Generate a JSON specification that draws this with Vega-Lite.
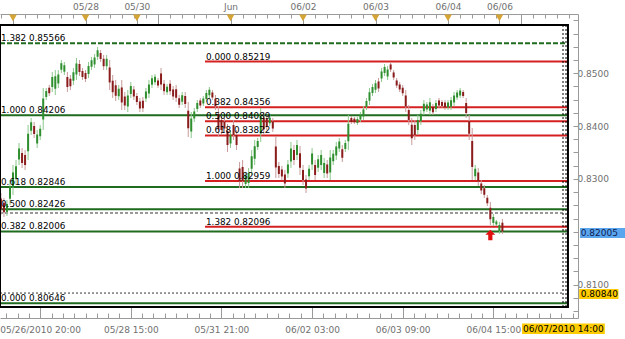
{
"$schema": "https://vega.github.io/schema/vega-lite/v6.json",
"width": 578, "height": 304,
"autosize": {"type": "none"},
"padding": {"left": 0, "top": 14, "right": 47, "bottom": 21},
"background": "white",
"config": {"view": {"stroke": null}, "axis": {"labelFont": "DejaVu Sans", "labelFontSize": 9, "labelColor": "#707070", "domainColor": "#9a9a9a", "tickColor": "#9a9a9a", "grid": false}, "text": {"font": "DejaVu Sans"}},
"resolve": {"axis": {"x": "independent", "y": "independent"}},
"datasets": {
"candles": [
{"t":0,"o":0.82629,"h":0.82733,"l":0.82317,"c":0.82421},
{"t":1,"o":0.82549,"h":0.82639,"l":0.82280,"c":0.82369},
{"t":2,"o":0.82374,"h":0.82601,"l":0.82298,"c":0.82525},
{"t":3,"o":0.82625,"h":0.82979,"l":0.82506,"c":0.82861},
{"t":4,"o":0.82837,"h":0.83263,"l":0.82695,"c":0.83122},
{"t":5,"o":0.83003,"h":0.83358,"l":0.82884,"c":0.83239},
{"t":6,"o":0.83367,"h":0.83679,"l":0.83263,"c":0.83575},
{"t":7,"o":0.83490,"h":0.83585,"l":0.83207,"c":0.83301},
{"t":8,"o":0.83452,"h":0.83547,"l":0.83169,"c":0.83263},
{"t":9,"o":0.83523,"h":0.84020,"l":0.83358,"c":0.83854},
{"t":10,"o":0.83911,"h":0.84153,"l":0.83831,"c":0.84072},
{"t":11,"o":0.84001,"h":0.84077,"l":0.83774,"c":0.83850},
{"t":12,"o":0.83670,"h":0.83925,"l":0.83585,"c":0.83840},
{"t":13,"o":0.83807,"h":0.84020,"l":0.83736,"c":0.83949},
{"t":14,"o":0.84124,"h":0.84720,"l":0.83925,"c":0.84521},
{"t":15,"o":0.84550,"h":0.84720,"l":0.84493,"c":0.84663},
{"t":16,"o":0.84725,"h":0.84777,"l":0.84569,"c":0.84621},
{"t":17,"o":0.84739,"h":0.85023,"l":0.84644,"c":0.84928},
{"t":18,"o":0.84706,"h":0.85061,"l":0.84588,"c":0.84942},
{"t":19,"o":0.84806,"h":0.85061,"l":0.84720,"c":0.84976},
{"t":20,"o":0.85066,"h":0.85250,"l":0.85004,"c":0.85189},
{"t":21,"o":0.85028,"h":0.85212,"l":0.84966,"c":0.85151},
{"t":22,"o":0.84928,"h":0.85023,"l":0.84644,"c":0.84739},
{"t":23,"o":0.84895,"h":0.84966,"l":0.84682,"c":0.84753},
{"t":24,"o":0.84858,"h":0.85099,"l":0.84777,"c":0.85018},
{"t":25,"o":0.84976,"h":0.85288,"l":0.84872,"c":0.85184},
{"t":26,"o":0.85174,"h":0.85250,"l":0.84947,"c":0.85023},
{"t":27,"o":0.85042,"h":0.85099,"l":0.84872,"c":0.84928},
{"t":28,"o":0.85004,"h":0.85061,"l":0.84834,"c":0.84891},
{"t":29,"o":0.84985,"h":0.85212,"l":0.84909,"c":0.85136},
{"t":30,"o":0.85122,"h":0.85307,"l":0.85061,"c":0.85245},
{"t":31,"o":0.85165,"h":0.85363,"l":0.85099,"c":0.85297},
{"t":32,"o":0.85311,"h":0.85496,"l":0.85250,"c":0.85434},
{"t":33,"o":0.85382,"h":0.85439,"l":0.85212,"c":0.85269},
{"t":34,"o":0.85273,"h":0.85345,"l":0.85061,"c":0.85132},
{"t":35,"o":0.85132,"h":0.85345,"l":0.85061,"c":0.85273},
{"t":36,"o":0.85108,"h":0.85250,"l":0.84682,"c":0.84825},
{"t":37,"o":0.84858,"h":0.84966,"l":0.84531,"c":0.84640},
{"t":38,"o":0.84772,"h":0.84872,"l":0.84474,"c":0.84573},
{"t":39,"o":0.84564,"h":0.84777,"l":0.84493,"c":0.84706},
{"t":40,"o":0.84730,"h":0.84872,"l":0.84304,"c":0.84446},
{"t":41,"o":0.84559,"h":0.84644,"l":0.84304,"c":0.84389},
{"t":42,"o":0.84370,"h":0.84682,"l":0.84266,"c":0.84578},
{"t":43,"o":0.84606,"h":0.84834,"l":0.84531,"c":0.84758},
{"t":44,"o":0.84692,"h":0.84758,"l":0.84493,"c":0.84559},
{"t":45,"o":0.84569,"h":0.84626,"l":0.84398,"c":0.84455},
{"t":46,"o":0.84465,"h":0.84531,"l":0.84266,"c":0.84332},
{"t":47,"o":0.84479,"h":0.84550,"l":0.84266,"c":0.84337},
{"t":48,"o":0.84521,"h":0.84720,"l":0.84455,"c":0.84654},
{"t":49,"o":0.84616,"h":0.84872,"l":0.84531,"c":0.84786},
{"t":50,"o":0.84782,"h":0.84966,"l":0.84720,"c":0.84904},
{"t":51,"o":0.84829,"h":0.84985,"l":0.84777,"c":0.84933},
{"t":52,"o":0.84862,"h":0.84909,"l":0.84720,"c":0.84767},
{"t":53,"o":0.84995,"h":0.85099,"l":0.84682,"c":0.84786},
{"t":54,"o":0.84801,"h":0.84872,"l":0.84588,"c":0.84659},
{"t":55,"o":0.84640,"h":0.84796,"l":0.84588,"c":0.84744},
{"t":56,"o":0.84801,"h":0.84872,"l":0.84588,"c":0.84659},
{"t":57,"o":0.84692,"h":0.84758,"l":0.84493,"c":0.84559},
{"t":58,"o":0.84696,"h":0.84777,"l":0.84455,"c":0.84535},
{"t":59,"o":0.84526,"h":0.84588,"l":0.84342,"c":0.84403},
{"t":60,"o":0.84460,"h":0.84644,"l":0.84398,"c":0.84583},
{"t":61,"o":0.84569,"h":0.84644,"l":0.84342,"c":0.84417},
{"t":62,"o":0.84290,"h":0.84455,"l":0.83793,"c":0.83958},
{"t":63,"o":0.83897,"h":0.84266,"l":0.83774,"c":0.84143},
{"t":64,"o":0.84143,"h":0.84342,"l":0.84077,"c":0.84276},
{"t":65,"o":0.84323,"h":0.84493,"l":0.84266,"c":0.84436},
{"t":66,"o":0.84484,"h":0.84531,"l":0.84342,"c":0.84389},
{"t":67,"o":0.84427,"h":0.84569,"l":0.84380,"c":0.84521},
{"t":68,"o":0.84512,"h":0.84682,"l":0.84455,"c":0.84626},
{"t":69,"o":0.84583,"h":0.84739,"l":0.84531,"c":0.84687},
{"t":70,"o":0.84635,"h":0.84682,"l":0.84493,"c":0.84540},
{"t":71,"o":0.84516,"h":0.84588,"l":0.84304,"c":0.84375},
{"t":72,"o":0.84233,"h":0.84380,"l":0.83793,"c":0.83939},
{"t":73,"o":0.84115,"h":0.84209,"l":0.83831,"c":0.83925},
{"t":74,"o":0.84086,"h":0.84153,"l":0.83887,"c":0.83953},
{"t":75,"o":0.83906,"h":0.84039,"l":0.83509,"c":0.83641},
{"t":76,"o":0.83670,"h":0.83925,"l":0.83585,"c":0.83840},
{"t":77,"o":0.84020,"h":0.84115,"l":0.83736,"c":0.83831},
{"t":78,"o":0.83831,"h":0.83925,"l":0.83547,"c":0.83641},
{"t":79,"o":0.83197,"h":0.83320,"l":0.82828,"c":0.82951},
{"t":80,"o":0.83226,"h":0.83358,"l":0.82828,"c":0.82960},
{"t":81,"o":0.82903,"h":0.83131,"l":0.82828,"c":0.83055},
{"t":82,"o":0.82922,"h":0.83207,"l":0.82828,"c":0.83112},
{"t":83,"o":0.83192,"h":0.83547,"l":0.83074,"c":0.83429},
{"t":84,"o":0.83382,"h":0.83736,"l":0.83263,"c":0.83618},
{"t":85,"o":0.83604,"h":0.83774,"l":0.83547,"c":0.83717},
{"t":86,"o":0.83859,"h":0.84342,"l":0.83698,"c":0.84181},
{"t":87,"o":0.84157,"h":0.84266,"l":0.83831,"c":0.83939},
{"t":88,"o":0.84139,"h":0.84209,"l":0.83925,"c":0.83996},
{"t":89,"o":0.84053,"h":0.84209,"l":0.84001,"c":0.84157},
{"t":90,"o":0.84086,"h":0.84153,"l":0.83887,"c":0.83953},
{"t":91,"o":0.83613,"h":0.83812,"l":0.83017,"c":0.83216},
{"t":92,"o":0.83245,"h":0.83320,"l":0.83017,"c":0.83093},
{"t":93,"o":0.83178,"h":0.83245,"l":0.82979,"c":0.83046},
{"t":94,"o":0.83083,"h":0.83169,"l":0.82828,"c":0.82913},
{"t":95,"o":0.83102,"h":0.83358,"l":0.83017,"c":0.83273},
{"t":96,"o":0.83330,"h":0.83698,"l":0.83207,"c":0.83575},
{"t":97,"o":0.83547,"h":0.83641,"l":0.83263,"c":0.83358},
{"t":98,"o":0.83452,"h":0.83736,"l":0.83358,"c":0.83641},
{"t":99,"o":0.83485,"h":0.83623,"l":0.83074,"c":0.83211},
{"t":100,"o":0.83169,"h":0.83263,"l":0.82884,"c":0.82979},
{"t":101,"o":0.82988,"h":0.83074,"l":0.82733,"c":0.82818},
{"t":102,"o":0.83050,"h":0.83263,"l":0.82979,"c":0.83192},
{"t":103,"o":0.83273,"h":0.83585,"l":0.83169,"c":0.83481},
{"t":104,"o":0.83263,"h":0.83358,"l":0.82979,"c":0.83074},
{"t":105,"o":0.83211,"h":0.83452,"l":0.83131,"c":0.83372},
{"t":106,"o":0.83263,"h":0.83547,"l":0.83169,"c":0.83452},
{"t":107,"o":0.83112,"h":0.83396,"l":0.83017,"c":0.83301},
{"t":108,"o":0.83273,"h":0.83358,"l":0.83017,"c":0.83102},
{"t":109,"o":0.83122,"h":0.83547,"l":0.82979,"c":0.83405},
{"t":110,"o":0.83334,"h":0.83547,"l":0.83263,"c":0.83476},
{"t":111,"o":0.83443,"h":0.83698,"l":0.83358,"c":0.83613},
{"t":112,"o":0.83575,"h":0.83774,"l":0.83509,"c":0.83708},
{"t":113,"o":0.83561,"h":0.83641,"l":0.83320,"c":0.83400},
{"t":114,"o":0.83566,"h":0.83736,"l":0.83509,"c":0.83679},
{"t":115,"o":0.83712,"h":0.84209,"l":0.83547,"c":0.84044},
{"t":116,"o":0.84153,"h":0.84191,"l":0.84039,"c":0.84077},
{"t":117,"o":0.84139,"h":0.84172,"l":0.84039,"c":0.84072},
{"t":118,"o":0.84058,"h":0.84172,"l":0.84020,"c":0.84134},
{"t":119,"o":0.84124,"h":0.84266,"l":0.84077,"c":0.84219},
{"t":120,"o":0.84181,"h":0.84380,"l":0.84115,"c":0.84313},
{"t":121,"o":0.84361,"h":0.84531,"l":0.84304,"c":0.84474},
{"t":122,"o":0.84479,"h":0.84720,"l":0.84398,"c":0.84640},
{"t":123,"o":0.84626,"h":0.84796,"l":0.84569,"c":0.84739},
{"t":124,"o":0.84687,"h":0.84872,"l":0.84626,"c":0.84810},
{"t":125,"o":0.84843,"h":0.84909,"l":0.84644,"c":0.84711},
{"t":126,"o":0.84900,"h":0.85099,"l":0.84834,"c":0.85033},
{"t":127,"o":0.85004,"h":0.85174,"l":0.84947,"c":0.85118},
{"t":128,"o":0.84938,"h":0.85136,"l":0.84872,"c":0.85070},
{"t":129,"o":0.85165,"h":0.85212,"l":0.85023,"c":0.85070},
{"t":130,"o":0.85014,"h":0.85061,"l":0.84872,"c":0.84919},
{"t":131,"o":0.84862,"h":0.84909,"l":0.84720,"c":0.84767},
{"t":132,"o":0.84786,"h":0.84834,"l":0.84644,"c":0.84692},
{"t":133,"o":0.84725,"h":0.84777,"l":0.84569,"c":0.84621},
{"t":134,"o":0.84578,"h":0.84682,"l":0.84266,"c":0.84370},
{"t":135,"o":0.84304,"h":0.84398,"l":0.84020,"c":0.84115},
{"t":136,"o":0.84025,"h":0.84153,"l":0.83641,"c":0.83769},
{"t":137,"o":0.84020,"h":0.84115,"l":0.83736,"c":0.83831},
{"t":138,"o":0.83925,"h":0.84209,"l":0.83831,"c":0.84115},
{"t":139,"o":0.84091,"h":0.84304,"l":0.84020,"c":0.84233},
{"t":140,"o":0.84280,"h":0.84493,"l":0.84209,"c":0.84422},
{"t":141,"o":0.84313,"h":0.84455,"l":0.84266,"c":0.84408},
{"t":142,"o":0.84290,"h":0.84531,"l":0.84209,"c":0.84450},
{"t":143,"o":0.84365,"h":0.84417,"l":0.84209,"c":0.84261},
{"t":144,"o":0.84323,"h":0.84493,"l":0.84266,"c":0.84436},
{"t":145,"o":0.84484,"h":0.84531,"l":0.84342,"c":0.84389},
{"t":146,"o":0.84455,"h":0.84493,"l":0.84342,"c":0.84380},
{"t":147,"o":0.84446,"h":0.84493,"l":0.84304,"c":0.84351},
{"t":148,"o":0.84351,"h":0.84493,"l":0.84304,"c":0.84446},
{"t":149,"o":0.84365,"h":0.84550,"l":0.84304,"c":0.84488},
{"t":150,"o":0.84446,"h":0.84644,"l":0.84380,"c":0.84578},
{"t":151,"o":0.84540,"h":0.84682,"l":0.84493,"c":0.84635},
{"t":152,"o":0.84578,"h":0.84720,"l":0.84531,"c":0.84673},
{"t":153,"o":0.84644,"h":0.84682,"l":0.84531,"c":0.84569},
{"t":154,"o":0.84436,"h":0.84531,"l":0.84153,"c":0.84247},
{"t":155,"o":0.84091,"h":0.84209,"l":0.83736,"c":0.83854},
{"t":156,"o":0.83717,"h":0.83963,"l":0.82979,"c":0.83226},
{"t":157,"o":0.83050,"h":0.83263,"l":0.82979,"c":0.83192},
{"t":158,"o":0.83122,"h":0.83207,"l":0.82866,"c":0.82951},
{"t":159,"o":0.82913,"h":0.82979,"l":0.82714,"c":0.82781},
{"t":160,"o":0.82823,"h":0.82884,"l":0.82639,"c":0.82700},
{"t":161,"o":0.82643,"h":0.82695,"l":0.82487,"c":0.82539},
{"t":162,"o":0.82454,"h":0.82563,"l":0.82128,"c":0.82237},
{"t":163,"o":0.82166,"h":0.82336,"l":0.82109,"c":0.82280},
{"t":164,"o":0.82138,"h":0.82223,"l":0.82109,"c":0.82194},
{"t":165,"o":0.82014,"h":0.82185,"l":0.81958,"c":0.82128},
{"t":166,"o":0.82171,"h":0.82242,"l":0.81958,"c":0.82005}
],
"fib": [
{"label":"1.382 0.85566","price":0.85566,"set":"G","t1":-0.303,"t2":187.7},
{"label":"1.000 0.84206","price":0.84206,"set":"G","t1":-0.303,"t2":187.7},
{"label":"0.618 0.82846","price":0.82846,"set":"G","t1":-0.303,"t2":187.7},
{"label":"0.500 0.82426","price":0.82426,"set":"G","t1":-0.303,"t2":187.7},
{"label":"0.382 0.82006","price":0.82006,"set":"G","t1":-0.303,"t2":187.7},
{"label":"0.000 0.80646","price":0.80646,"set":"G","t1":-0.303,"t2":187.7},
{"label":"0.000 0.85219","price":0.85219,"set":"R","t1":67.55,"t2":187.7},
{"label":"0.382 0.84356","price":0.84356,"set":"R","t1":67.55,"t2":187.7},
{"label":"0.500 0.84089","price":0.84089,"set":"R","t1":67.55,"t2":187.7},
{"label":"0.618 0.83822","price":0.83822,"set":"R","t1":67.55,"t2":187.7},
{"label":"1.000 0.82959","price":0.82959,"set":"R","t1":67.55,"t2":187.7},
{"label":"1.382 0.82096","price":0.82096,"set":"R","t1":67.55,"t2":187.7}
],
"levels": [
{"price":0.82355,"t1":-0.303,"t2":186.06,"kind":"dash"},
{"price":0.80840,"t1":-0.303,"t2":186.06,"kind":"dot"}
],
"verticals": [
{"t":186.06,"p1":0.80576,"p2":0.85912},
{"t":187.05,"p1":0.80576,"p2":0.85912}
],
"frame": [{"t1":-0.303,"t2":187.7,"p1":0.80576,"p2":0.85912}],
"days": [{"t":4},{"t":28},{"t":45},{"t":76},{"t":100},{"t":124},{"t":148},{"t":165}],
"markers": [{"t":162,"p":0.81939}],
"tags": [
{"text":"0.82005","kind":"price","tc":198.1,"pc":0.81976,"t1":191.7,"t2":207,"p1":0.82071,"p2":0.81882},
{"text":"0.80840","kind":"level","tc":198.1,"pc":0.80822,"t1":191.4,"t2":204.4,"p1":0.80917,"p2":0.80728},
{"text":"06/07/2010 14:00","kind":"time","tc":186.2,"pc":0.80166,"t1":172.5,"t2":199.9,"p1":0.80264,"p2":0.80066}
]
},
"layer": [
{
"data": {"name": "levels"},
"mark": {"type": "rule", "strokeWidth": 1, "color": "#333333"},
"encoding": {
"x": {"field": "t1", "type": "quantitative", "scale": {"domain": [-0.303, 191.02], "nice": false, "zero": false}, "axis": null},
"x2": {"field": "t2"},
"y": {"field": "price", "type": "quantitative", "scale": {"domain": [0.80368, 0.8612], "nice": false, "zero": false}, "axis": null},
"strokeDash": {"condition": {"test": "datum.kind == 'dash'", "value": [3, 2]}, "value": [2, 2]}
}
},
{
"data": {"name": "fib"},
"mark": {"type": "rule", "strokeWidth": 2},
"encoding": {
"x": {"field": "t1", "type": "quantitative", "scale": {"domain": [-0.303, 191.02], "nice": false, "zero": false}, "axis": null},
"x2": {"field": "t2"},
"y": {"field": "price", "type": "quantitative", "scale": {"domain": [0.80368, 0.8612], "nice": false, "zero": false}, "axis": null},
"color": {"field": "set", "type": "nominal", "scale": {"domain": ["G", "R"], "range": ["#1f6b1f", "#d42020"]}, "legend": null},
"strokeDash": {"condition": {"test": "datum.price > 0.855 && datum.set == 'G'", "value": [5, 2]}, "value": [1, 0]}
}
},
{
"data": {"name": "verticals"},
"mark": {"type": "rule", "strokeWidth": 1, "color": "#000000", "strokeDash": [2, 2]},
"encoding": {
"x": {"field": "t", "type": "quantitative", "scale": {"domain": [-0.303, 191.02], "nice": false, "zero": false}, "axis": null},
"y": {"field": "p1", "type": "quantitative", "scale": {"domain": [0.80368, 0.8612], "nice": false, "zero": false}, "axis": null},
"y2": {"field": "p2"}
}
},
{
"data": {"name": "candles"},
"mark": {"type": "rule", "strokeWidth": 1},
"encoding": {
"x": {"field": "t", "type": "quantitative", "scale": {"domain": [-0.303, 191.02], "nice": false, "zero": false},
 "axis": {"orient": "bottom", "title": null, "values": [1.75,5.5,9.25,13,16.75,20.5,24.25,28,31.75,35.5,39.25,43,46.75,50.5,54.25,58,61.75,65.5,69.25,73,76.75,80.5,84.25,88,91.75,95.5,99.25,103,106.75,110.5,114.25,118,121.75,125.5,129.25,133,136.75,140.5,144.25,148,151.75,155.5,159.25,163,166.75,170.5,174.25,178,181.75,185.5,189.25],
  "tickSize": {"condition": {"test": "indexof([13,43,73,103,133,163], datum.value) >= 0", "value": -11}, "value": -5},
  "labelExpr": "datum.value == 13 ? '05/26/2010 20:00' : datum.value == 43 ? '05/28 15:00' : datum.value == 73 ? '05/31 21:00' : datum.value == 103 ? '06/02 03:00' : datum.value == 133 ? '06/03 09:00' : datum.value == 163 ? '06/04 15:00' : ''",
  "labelPadding": 18, "labelOverlap": false, "labelFlush": false, "labelBound": false}},
"y": {"field": "l", "type": "quantitative", "scale": {"domain": [0.80368, 0.8612], "nice": false, "zero": false},
 "axis": {"orient": "right", "title": null, "values": [0.805,0.8075,0.81,0.8125,0.815,0.8175,0.82,0.8225,0.825,0.8275,0.83,0.8325,0.835,0.8375,0.84,0.8425,0.845,0.8475,0.85,0.8525,0.855,0.8575,0.86],
  "tickSize": -5,
  "labelExpr": "indexof([0.81,0.83,0.84,0.85], round(datum.value*100)/100) >= 0 && abs(datum.value*100 - round(datum.value*100)) < 0.01 ? format(datum.value, '.4f') : ''",
  "labelPadding": 4, "labelOverlap": false, "labelFlush": false, "labelBound": false}},
"y2": {"field": "h"},
"color": {"condition": {"test": "datum.c >= datum.o", "value": "#8cc88c"}, "value": "#c89a9a"}
}
},
{
"data": {"name": "candles"},
"mark": {"type": "rule", "strokeWidth": 2},
"encoding": {
"x": {"field": "t", "type": "quantitative", "scale": {"domain": [-0.303, 191.02], "nice": false, "zero": false}, "axis": null},
"y": {"field": "o", "type": "quantitative", "scale": {"domain": [0.80368, 0.8612], "nice": false, "zero": false}, "axis": null},
"y2": {"field": "c"},
"color": {"condition": {"test": "datum.c >= datum.o", "value": "#2f8f2f"}, "value": "#8a1c1c"}
}
},
{
"data": {"name": "frame"},
"mark": {"type": "rect", "filled": false, "color": "#000000", "strokeWidth": 2},
"encoding": {
"x": {"field": "t1", "type": "quantitative", "scale": {"domain": [-0.303, 191.02], "nice": false, "zero": false}, "axis": null},
"x2": {"field": "t2"},
"y": {"field": "p1", "type": "quantitative", "scale": {"domain": [0.80368, 0.8612], "nice": false, "zero": false}, "axis": null},
"y2": {"field": "p2"}
}
},
{
"data": {"name": "fib"},
"mark": {"type": "text", "align": "left", "baseline": "alphabetic", "dx": 1, "dy": -2, "fontSize": 8.8, "color": "#000000"},
"encoding": {
"x": {"field": "t1", "type": "quantitative", "scale": {"domain": [-0.303, 191.02], "nice": false, "zero": false}, "axis": null},
"y": {"field": "price", "type": "quantitative", "scale": {"domain": [0.80368, 0.8612], "nice": false, "zero": false}, "axis": null},
"text": {"field": "label"}
}
},
{
"data": {"name": "days"},
"mark": {"type": "point", "shape": "triangle-down", "filled": true, "color": "#d4a435", "size": 60, "opacity": 1},
"encoding": {
"x": {"field": "t", "type": "quantitative", "scale": {"domain": [-0.303, 191.02], "nice": false, "zero": false},
 "axis": {"orient": "top", "title": null, "values": [0,4,8,12,16,20,24,28,32,36,40,44,45,48,52,56,60,64,68,72,76,80,84,88,92,96,100,104,108,112,116,120,124,128,132,136,140,144,148,152,156,160,164,165,168,172,176,180,184,188],
  "tickSize": {"condition": {"test": "indexof([4,28,45,52,76,100,124,148,165,172], datum.value) >= 0", "value": -11}, "value": -4},
  "labelExpr": "datum.value == 28 ? '05/28' : datum.value == 45 ? '05/30' : datum.value == 76 ? 'Jun' : datum.value == 100 ? '06/02' : datum.value == 124 ? '06/03' : datum.value == 148 ? '06/04' : datum.value == 165 ? '06/06' : ''",
  "labelPadding": 14, "labelOverlap": false, "labelFlush": false, "labelBound": false}},
"y": {"datum": 0.86045, "type": "quantitative", "scale": {"domain": [0.80368, 0.8612], "nice": false, "zero": false}, "axis": null}
}
},
{
"data": {"name": "markers"},
"mark": {"type": "point", "shape": "M0,-1L0.95,-0.05L0.4,-0.05L0.4,1L-0.4,1L-0.4,-0.05L-0.95,-0.05Z", "filled": true, "color": "#e01010", "size": 110, "opacity": 1},
"encoding": {
"x": {"field": "t", "type": "quantitative", "scale": {"domain": [-0.303, 191.02], "nice": false, "zero": false}, "axis": null},
"y": {"field": "p", "type": "quantitative", "scale": {"domain": [0.80368, 0.8612], "nice": false, "zero": false}, "axis": null}
}
},
{
"data": {"name": "tags"},
"mark": {"type": "rect"},
"encoding": {
"x": {"field": "t1", "type": "quantitative", "scale": {"domain": [-0.303, 191.02], "nice": false, "zero": false}, "axis": null},
"x2": {"field": "t2"},
"y": {"field": "p1", "type": "quantitative", "scale": {"domain": [0.80368, 0.8612], "nice": false, "zero": false}, "axis": null},
"y2": {"field": "p2"},
"color": {"condition": {"test": "datum.kind == 'price'", "value": "#5aa6ee"}, "value": "#ffcc00"}
}
},
{
"data": {"name": "tags"},
"mark": {"type": "text", "align": "center", "baseline": "middle", "fontSize": 9},
"encoding": {
"x": {"field": "tc", "type": "quantitative", "scale": {"domain": [-0.303, 191.02], "nice": false, "zero": false}, "axis": null},
"y": {"field": "pc", "type": "quantitative", "scale": {"domain": [0.80368, 0.8612], "nice": false, "zero": false}, "axis": null},
"text": {"field": "text"},
"color": {"condition": {"test": "datum.kind == 'price'", "value": "#102050"}, "value": "#000000"}
}
}
]
}
